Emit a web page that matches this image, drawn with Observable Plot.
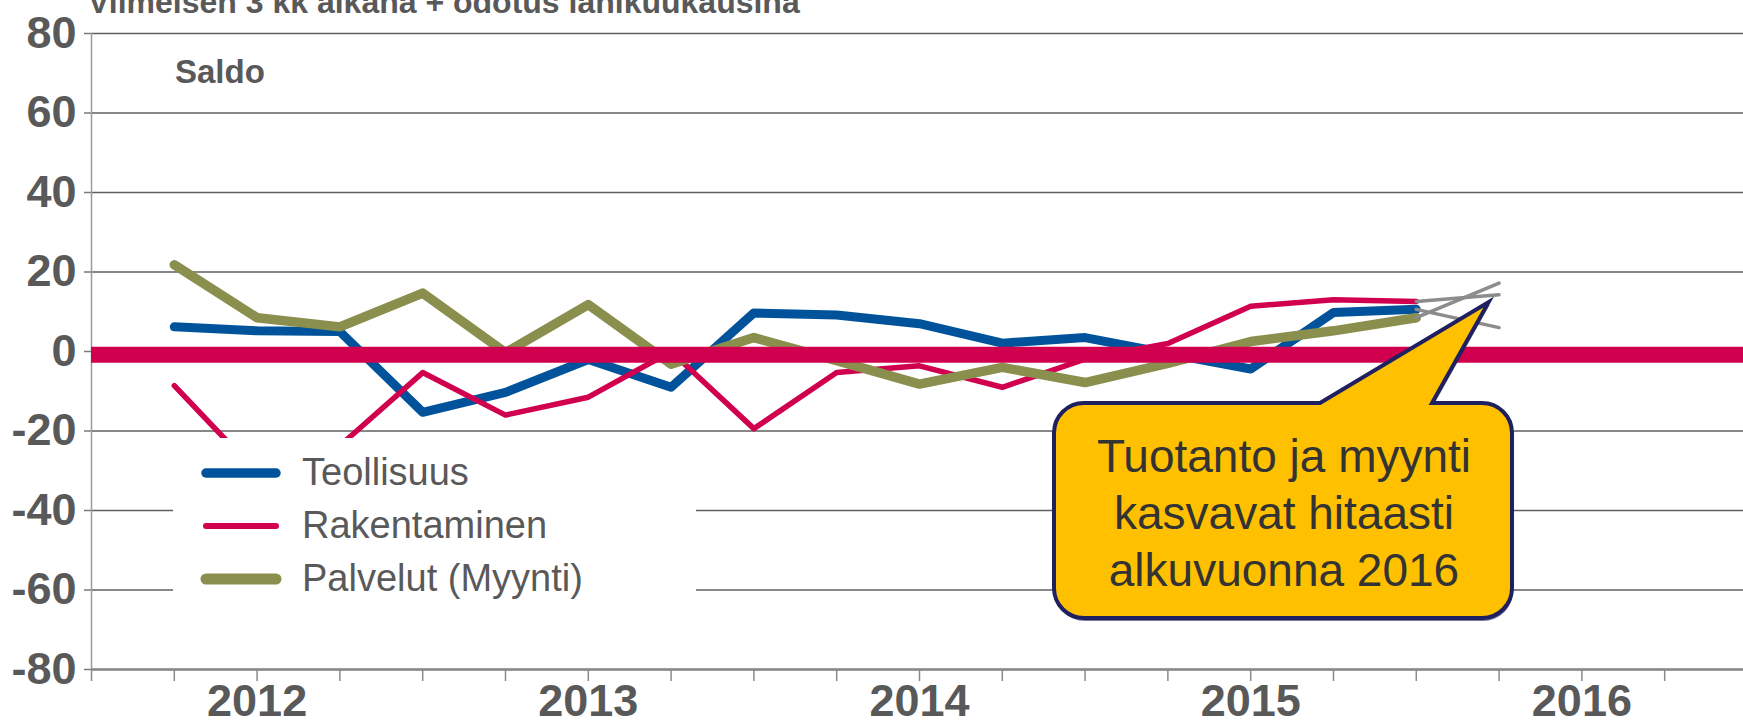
<!DOCTYPE html>
<html><head><meta charset="utf-8">
<script src="https://cdn.jsdelivr.net/npm/d3@7"></script>
<script src="https://cdn.jsdelivr.net/npm/@observablehq/plot@0.6"></script>
<style>
html,body{margin:0;padding:0;background:#fff;overflow:hidden;}
#chart{position:relative;width:1743px;height:724px;}
</style></head><body><div id="chart"></div>
<script>
// ---- data ----
const periods = [2012.25, 2012.5, 2012.75, 2013.0, 2013.25, 2013.5, 2013.75, 2014.0,
                 2014.25, 2014.5, 2014.75, 2015.0, 2015.25, 2015.5, 2015.75, 2016.0];
const teollisuus   = [6.2, 5.2, 5.0, -15.3, -10.3, -2.0, -9.0, 9.7, 9.2, 7.0, 2.1, 3.5, -0.5, -4.4, 9.8, 10.6];
const rakentaminen = [-8.6, -30.5, -23.7, -5.3, -16.0, -11.5, 0.0, -19.4, -5.3, -3.6, -9.0, -1.9, 2.0, 11.4, 13.0, 12.6];
const palvelut     = [21.8, 8.5, 6.2, 14.7, -0.3, 11.8, -3.2, 3.5, -2.3, -8.2, -4.0, -7.8, -3.0, 2.5, 5.2, 8.5];
const forecastPeriod = 2016.25;
const forecastTeollisuus = 6.0;
const forecastRakentaminen = 14.3;
const forecastPalvelut = 17.2;
const zeroLevel = -0.8;
const seriesNames = ["Teollisuus", "Rakentaminen", "Palvelut (Myynti)"];
const yTicks = [80, 60, 40, 20, 0, -20, -40, -60, -80];
const quarterTicks = [2012, 2012.25, 2012.5, 2012.75, 2013, 2013.25, 2013.5, 2013.75,
                      2014, 2014.25, 2014.5, 2014.75, 2015, 2015.25, 2015.5, 2015.75,
                      2016, 2016.25, 2016.5, 2016.75];
const yearCenters = [2012.5, 2013.5, 2014.5, 2015.5, 2016.5];
const yearLabels = ["2012", "2013", "2014", "2015", "2016"];
const titleText = "Viimeisen 3 kk aikana + odotus lähikuukausina";
const unitLabel = "Saldo";
const calloutLines = ["Tuotanto ja myynti", "kasvavat hitaasti", "alkuvuonna 2016"];

// ---- styles ----
const C_BLUE = "#00539B", C_PINK = "#D1004F", C_OLIVE = "#8B8F4E", C_GRAY = "#8C8C8C";
const TXT = "#595959";
const FONT = "'Liberation Sans', Arial, Helvetica, sans-serif";

const mk = (vals, name) => periods.map((t, i) => ({t, v: vals[i], s: name}));
const rowsT = mk(teollisuus, seriesNames[0]);
const rowsR = mk(rakentaminen, seriesNames[1]);
const rowsP = mk(palvelut, seriesNames[2]);
const last = periods[periods.length - 1];
const forecastRows = [
  {t1: last, v1: teollisuus[teollisuus.length - 1], t2: forecastPeriod, v2: forecastTeollisuus},
  {t1: last, v1: rakentaminen[rakentaminen.length - 1], t2: forecastPeriod, v2: forecastRakentaminen},
  {t1: last, v1: palvelut[palvelut.length - 1], t2: forecastPeriod, v2: forecastPalvelut}
];

// annotation layer (title, unit, legend, callout)
function annotations(index, scales, values, dimensions) {
  const g = d3.create("svg:g").attr("font-family", FONT).attr("text-anchor", "start");
  // title (partly cut at top, as in the original)
  g.append("text").attr("x", 88).attr("y", 13).attr("font-size", 32).attr("font-weight", "bold")
    .attr("text-anchor", "start").attr("fill", TXT).text(titleText);
  // unit
  g.append("text").attr("x", 175).attr("y", 83).attr("font-size", 33).attr("font-weight", "bold")
    .attr("text-anchor", "start").attr("fill", TXT).text(unitLabel);
  // legend box
  const lg = g.append("g");
  lg.append("rect").attr("x", 173).attr("y", 438).attr("width", 523).attr("height", 172).attr("fill", "white");
  const items = [[C_BLUE, 9.5], [C_PINK, 6], [C_OLIVE, 11]];
  items.forEach(([c, w], i) => {
    const y = 473 + i * 53;
    lg.append("line").attr("x1", 206).attr("x2", 276).attr("y1", y).attr("y2", y)
      .attr("stroke", c).attr("stroke-width", w).attr("stroke-linecap", "round");
    lg.append("text").attr("x", 302).attr("y", y + 12).attr("font-size", 38).attr("fill", TXT)
      .attr("text-anchor", "start").text(seriesNames[i]);
  });
  // callout
  const x0 = 1054, x1 = 1512, y0 = 403, y1 = 618, r = 30, pb1 = 1320, pb2 = 1432;
  const tx = scales.x ? scales.x(2016.22) : 1486, ty = scales.y ? scales.y(12.3) : 303;
  const p = `M${x0 + r},${y0} L${pb1},${y0} L${tx},${ty} L${pb2},${y0} L${x1 - r},${y0} A${r},${r} 0 0 1 ${x1},${y0 + r} L${x1},${y1 - r} A${r},${r} 0 0 1 ${x1 - r},${y1} L${x0 + r},${y1} A${r},${r} 0 0 1 ${x0},${y1 - r} L${x0},${y0 + r} A${r},${r} 0 0 1 ${x0 + r},${y0} Z`;
  g.append("path").attr("d", p).attr("transform", "translate(1,3)").attr("fill", "#1F2060").attr("opacity", 0.6);
  g.append("path").attr("d", p).attr("fill", "#FFC000").attr("stroke", "#1F2060").attr("stroke-width", 4).attr("stroke-linejoin", "miter");
  calloutLines.forEach((s, i) => {
    g.append("text").attr("x", 1284).attr("y", 472 + i * 57).attr("text-anchor", "middle")
      .attr("font-size", 46).attr("fill", "#333").text(s);
  });
  return g.node();
}

const chart = Plot.plot({
  width: 1743, height: 724,
  marginLeft: 91, marginRight: 0, marginTop: 33, marginBottom: 55,
  x: {domain: [2012, 2016.988]},
  y: {domain: [-80, 80]},
  style: {fontFamily: FONT, background: "white", overflow: "visible"},
  marks: [
    Plot.gridY(yTicks, {stroke: "#5f5f5f", strokeOpacity: 1, strokeWidth: 1.6}),
    Plot.axisY(yTicks, {tickSize: 7, tickPadding: 8, fontSize: 45, fontWeight: "bold", fill: TXT,
      stroke: "#7a7a7a", strokeWidth: 1.5, tickFormat: d => String(d), label: null}),
    Plot.ruleX([2012], {y1: -80, y2: 80, stroke: "#9a9a9a", strokeWidth: 1.5}),
    Plot.axisX(quarterTicks, {tickSize: 12, tickFormat: () => "", stroke: "#8a8a8a", strokeWidth: 1.5, label: null}),
    Plot.axisX(yearCenters, {tickSize: 0, tickPadding: 15, fontSize: 45, fontWeight: "bold", fill: TXT,
      tickFormat: d => yearLabels[yearCenters.indexOf(d)], label: null}),
    Plot.ruleY([-80], {stroke: "#8a8a8a", strokeWidth: 2.5}),
    Plot.line(rowsT, {x: "t", y: "v", stroke: C_BLUE, strokeWidth: 9, strokeLinejoin: "round", strokeLinecap: "round"}),
    Plot.line(rowsR, {x: "t", y: "v", stroke: C_PINK, strokeWidth: 5.5, strokeLinejoin: "round", strokeLinecap: "round"}),
    Plot.line(rowsP, {x: "t", y: "v", stroke: C_OLIVE, strokeWidth: 9.5, strokeLinejoin: "round", strokeLinecap: "round"}),
    Plot.ruleY([zeroLevel], {stroke: C_PINK, strokeWidth: 16}),
    Plot.link(forecastRows, {x1: "t1", y1: "v1", x2: "t2", y2: "v2", stroke: C_GRAY, strokeWidth: 3.5, strokeLinecap: "round"}),
    annotations
  ]
});
document.getElementById("chart").appendChild(chart);
</script></body></html>
